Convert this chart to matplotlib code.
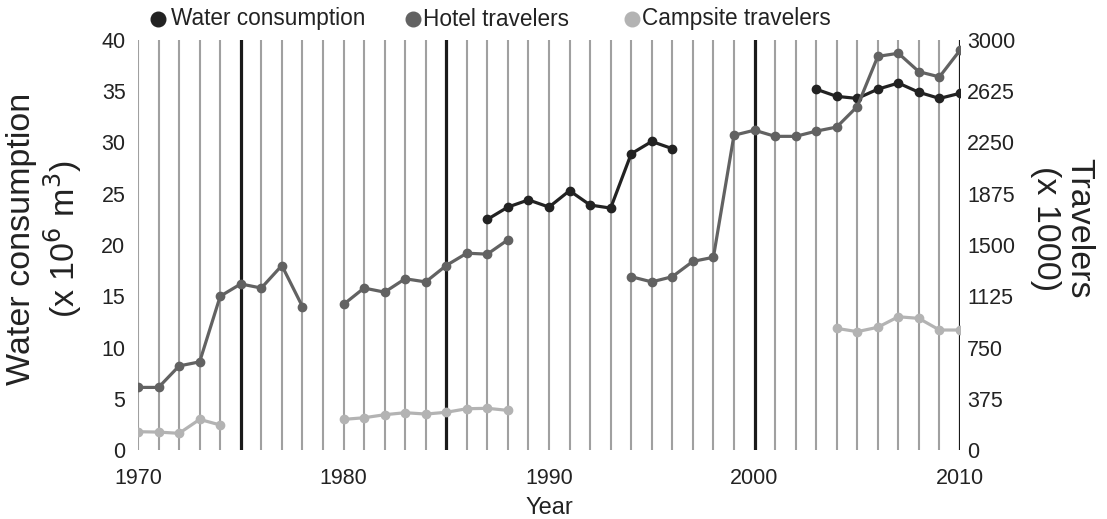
import matplotlib
matplotlib.use("Agg")
import matplotlib.pyplot as plt
from matplotlib.lines import Line2D
import numpy as np

plt.rcParams['font.family'] = ['Liberation Sans', 'DejaVu Sans']

years = list(range(1970, 2011))

# Water consumption (x 10^6 m3), None = missing
water_years = [1987, 1988, 1989, 1990, 1991, 1992, 1993, 1994, 1995, 1996,
               None,
               2003, 2004, 2005, 2006, 2007, 2008, 2009, 2010]
water_vals = [22.5, 23.7, 24.4, 23.7, 25.3, 23.9, 23.6, 28.9, 30.1, 29.4,
              None,
              35.2, 34.5, 34.3, 35.2, 35.8, 34.9, 34.3, 34.8]

# Hotel travelers (x 1000)
hotel_years = [1970, 1971, 1972, 1973, 1974, 1975, 1976, 1977, 1978,
               None,
               1980, 1981, 1982, 1983, 1984, 1985, 1986, 1987, 1988,
               None,
               1994, 1995, 1996, 1997, 1998, 1999, 2000, 2001, 2002, 2003,
               2004, 2005, 2006, 2007, 2008, 2009, 2010]
hotel_vals = [458, 458, 615, 645, 1125, 1215, 1185, 1350, 1050,
              None,
              1065, 1185, 1155, 1253, 1230, 1350, 1440, 1433, 1538,
              None,
              1268, 1230, 1268, 1380, 1410, 2303, 2340, 2295, 2295, 2333,
              2363, 2513, 2880, 2903, 2768, 2730, 2925]

# Campsite travelers (x 1000)
camp_years = [1970, 1971, 1972, 1973, 1974,
              None,
              1980, 1981, 1982, 1983, 1984, 1985, 1986, 1987, 1988,
              None,
              2004, 2005, 2006, 2007, 2008, 2009, 2010]
camp_vals = [134, 131, 122, 224, 183,
             None,
             224, 236, 258, 273, 263, 276, 302, 305, 290,
             None,
             890, 866, 898, 975, 963, 878, 878]

dark_years = [1975, 1985, 2000, 2010]

left_ticks = [0, 5, 10, 15, 20, 25, 30, 35, 40]
right_ticks = [0, 375, 750, 1125, 1500, 1875, 2250, 2625, 3000]
x_ticks = [1970, 1980, 1990, 2000, 2010]

legend_labels = ['Water consumption', 'Hotel travelers', 'Campsite travelers']

c_water = '#222222'
c_hotel = '#626262'
c_camp = '#b3b3b3'
c_grid = '#a0a0a0'
c_text = '#222222'

W, H = 1107, 519


def nanify(v):
    return np.array([np.nan if a is None else a for a in v], dtype=float)


fig = plt.figure(figsize=(W / 100, H / 100), dpi=100)
ax = fig.add_axes([138 / W, 1 - 450 / H, (960 - 138) / W, 410 / H])
ax2 = ax.twinx()

for y in years:
    if y in dark_years:
        ax.axvline(y, color='#1a1a1a', lw=2.3, zorder=1)
    else:
        ax.axvline(y, color=c_grid, lw=1.5, zorder=1)

ax.plot(nanify(water_years), nanify(water_vals), color=c_water, lw=2.3,
        marker='o', ms=6, zorder=5)
ax2.plot(nanify(hotel_years), nanify(hotel_vals), color=c_hotel, lw=2.3,
         marker='o', ms=6, zorder=4)
ax2.plot(nanify(camp_years), nanify(camp_vals), color=c_camp, lw=2.3,
         marker='o', ms=6, zorder=3)

ax.set_xlim(1970, 2010)
ax.set_ylim(0, 40)
ax2.set_ylim(0, 3000)
ax.set_yticks(left_ticks)
ax2.set_yticks(right_ticks)
ax.set_xticks(x_ticks)
ax.tick_params(axis='x', length=0, labelsize=15.5, colors=c_text, pad=13)
ax.tick_params(axis='y', length=0, labelsize=15.5, colors=c_text, pad=9)
ax2.tick_params(axis='y', length=0, labelsize=15.5, colors=c_text, pad=5)
for a in (ax, ax2):
    for s in a.spines.values():
        s.set_visible(False)

ax.set_xlabel('Year', fontsize=17, color=c_text, labelpad=6)
ax.set_ylabel('Water consumption\n(x 10$^6$ m$^3$)', fontsize=24.5,
              color=c_text, linespacing=1.1, ha='center', va='center')
ax.yaxis.set_label_coords(-93 / 822, 0.515)
ax2.set_ylabel('Travelers\n(x 1000)', fontsize=24.5, color=c_text,
               rotation=270, linespacing=1.1, ha='center', va='center')
ax2.yaxis.set_label_coords(1 + 102 / 822, 0.54)

# legend drawn manually in figure pixel positions
marker_x = [158, 413, 632]
text_x = [171, 423, 642]
for mx, tx, c, lab in zip(marker_x, text_x, (c_water, c_hotel, c_camp),
                          legend_labels):
    fig.add_artist(Line2D([mx / W], [1 - 19 / H], ls='none', marker='o',
                          ms=10.5, color=c, transform=fig.transFigure))
    fig.text(tx / W, 1 - 25.5 / H, lab, fontsize=16.3, color=c_text,
             ha='left', va='baseline')

fig.savefig('out.png', dpi=100)
